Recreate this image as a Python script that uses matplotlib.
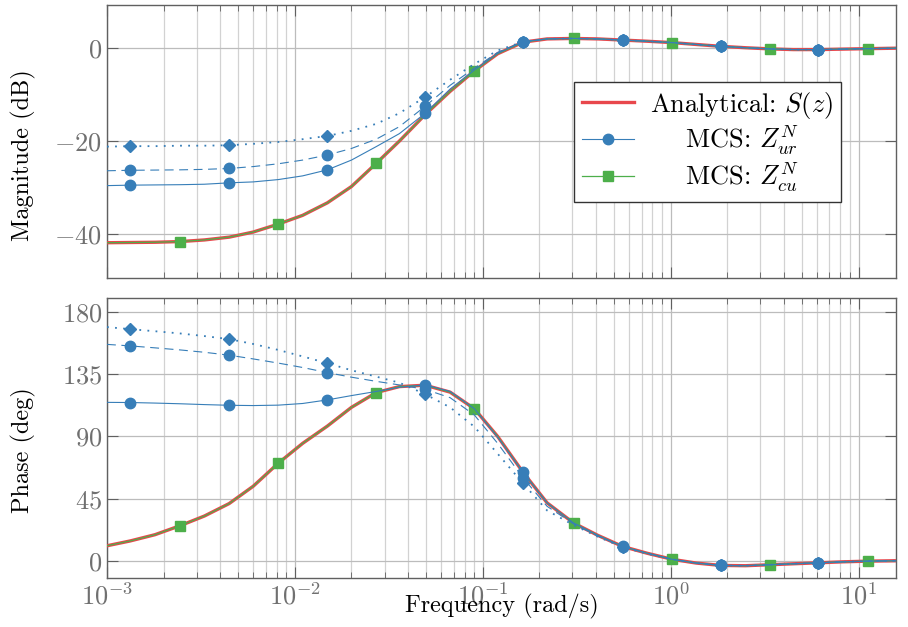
import matplotlib
matplotlib.use('Agg')
import matplotlib.pyplot as plt

plt.rcParams['font.family'] = 'serif'
plt.rcParams['font.serif'] = ['cmr10']
plt.rcParams['mathtext.fontset'] = 'cm'
plt.rcParams['axes.formatter.use_mathtext'] = True

# frequency grid (rad/s)
freq = [0.001, 0.00133, 0.0018, 0.00245, 0.0033, 0.00447, 0.006, 0.00815, 0.011,
        0.0149, 0.02, 0.0271, 0.036, 0.0494, 0.067, 0.0902, 0.12, 0.164, 0.22,
        0.304, 0.41, 0.555, 0.75, 1.02, 1.37, 1.85, 2.5, 3.37, 4.5, 6.1, 8.2,
        11.2, 15.8]

# analytical S(z)
mag_s = [-41.9, -41.85, -41.8, -41.65, -41.3, -40.7, -39.6, -37.9, -36.0, -33.3,
         -29.8, -24.8, -20.0, -14.3, -9.3, -4.9, -1.2, 1.3, 2.0, 2.1, 2.0, 1.75,
         1.5, 1.2, 0.8, 0.4, 0.1, -0.15, -0.3, -0.3, -0.2, -0.1, 0.0]
phase_s = [11, 14.5, 19, 25.5, 32.5, 41.5, 54, 70.6, 85, 97.5, 111, 121.7, 126,
           127, 122, 110, 90, 64, 42, 27.5, 18.5, 10.5, 5.6, 1.2, -1.5, -3.2,
           -3.4, -2.7, -2.0, -1.3, -0.6, -0.1, 0.2]

# MCS Z_cu (lies on the analytical curve)
mag_cu = list(mag_s)
phase_cu = list(phase_s)

# MCS Z_ur, three runs (solid / dashed / dotted)
mag_ur_solid = [-29.6, -29.5, -29.45, -29.4, -29.3, -29.0, -28.8, -28.3, -27.5,
                -26.2, -24.1, -21.2, -18.4, -14.0, -8.8, -4.7, -1.1, 1.4] + mag_s[18:]
mag_ur_dash = [-26.4, -26.3, -26.25, -26.2, -26.1, -25.9, -25.5, -24.9, -24.1,
               -23.0, -21.6, -19.6, -16.9, -12.5, -8.0, -4.3, -0.9, 1.4] + mag_s[18:]
mag_ur_dot = [-21.2, -21.1, -21.1, -21.0, -21.0, -20.9, -20.6, -20.2, -19.6,
              -18.9, -17.8, -16.3, -14.0, -10.5, -6.8, -3.4, -0.5, 1.4] + mag_s[18:]

phase_ur_solid = [114.6, 114.5, 114.1, 113.6, 113.0, 112.5, 112.3, 112.6, 113.8,
                  116.4, 119.5, 122.5, 125.5, 127.2, 122.5, 110, 89.5, 64] + phase_s[18:]
phase_ur_dash = [156.5, 155.4, 154.0, 152.5, 150.8, 148.7, 146.0, 143.0, 139.8,
                 136.1, 132.8, 129.8, 127.2, 124.0, 118.0, 105.5, 85.0, 60.0,
                 39.5, 26.8, 18.0, 10.3] + phase_s[22:]
phase_ur_dot = [169.0, 167.5, 166.0, 164.4, 162.5, 160.3, 156.8, 152.5, 147.8,
                142.9, 137.8, 133.2, 128.8, 120.5, 111.0, 97.0, 77.5, 56.0,
                36.5, 26.0, 17.5, 10.0, 5.2] + phase_s[23:]

red = '#e8474c'
blue = '#377eb8'
green = '#4daf4a'
tick_grey = '#707070'

fig = plt.figure(figsize=(9.08, 6.27), dpi=100)
ax1 = fig.add_axes([0.1178, 0.5566, 0.8689, 0.4354])
ax2 = fig.add_axes([0.1178, 0.0781, 0.8689, 0.4466], sharex=ax1)


def draw(ax, s, cu, ur_list):
    ax.plot(freq, s, color=red, lw=2.4, zorder=3, label='Analytical: $S(z)$')
    styles = ['-', (0, (8, 5)), (0, (1, 3.5))]
    marks = ['o', 'o', 'D']
    for i, (vals, ls, mk) in enumerate(zip(ur_list, styles, marks)):
        lw = 1.3 if i == 2 else 0.8
        ax.plot(freq, vals, color=blue, lw=lw, ls=ls, marker=mk,
                ms=7.5 if mk == 'o' else 6.5, markevery=slice(1, None, 4), zorder=5,
                label='    MCS: $Z_{ur}^{N}$' if i == 0 else None)
    ax.plot(freq, cu, color=green, lw=0.9, marker='s', ms=7.5,
            markevery=slice(3, None, 4), zorder=4,
            label='    MCS: $Z_{cu}^{N}$')


draw(ax1, mag_s, mag_cu, [mag_ur_solid, mag_ur_dash, mag_ur_dot])
draw(ax2, phase_s, phase_cu, [phase_ur_solid, phase_ur_dash, phase_ur_dot])

for ax in (ax1, ax2):
    ax.set_xscale('log')
    ax.set_xlim(1e-3, 15.8)
    ax.set_axisbelow(True)
    ax.grid(which='major', color='#bcbcbc', lw=0.9)
    ax.grid(which='minor', axis='x', color='#d2d2d2', lw=0.9)
    ax.tick_params(which='both', direction='in', top=True, right=True,
                   color='#606060', labelcolor=tick_grey, labelsize=19)
    ax.tick_params(which='major', length=8)
    ax.tick_params(which='minor', length=4.5)
    for sp in ax.spines.values():
        sp.set_color('#606060')
        sp.set_linewidth(1.0)

ax1.set_ylim(-49.5, 9.3)
ax1.set_yticks([-40, -20, 0])
ax1.tick_params(labelbottom=False)
ax1.set_ylabel('Magnitude (dB)', fontsize=17.5)
ax1.yaxis.set_label_coords(-0.09, 0.45)

ax2.set_ylim(-12.3, 190)
ax2.set_yticks([0, 45, 90, 135, 180])
ax2.set_ylabel('Phase (deg)', fontsize=17.5)
ax2.yaxis.set_label_coords(-0.09, 0.457)
ax2.set_xlabel('Frequency (rad/s)', fontsize=17.5)
ax2.xaxis.set_label_coords(0.5, -0.055)

ax1.legend(loc='center', bbox_to_anchor=(0.761, 0.4985), fancybox=False,
           edgecolor='#333333', framealpha=1, fontsize=19, handlelength=2.0,
           borderpad=0.3, labelspacing=0.1, handletextpad=0.6)

fig.savefig('out.png', dpi=100)
